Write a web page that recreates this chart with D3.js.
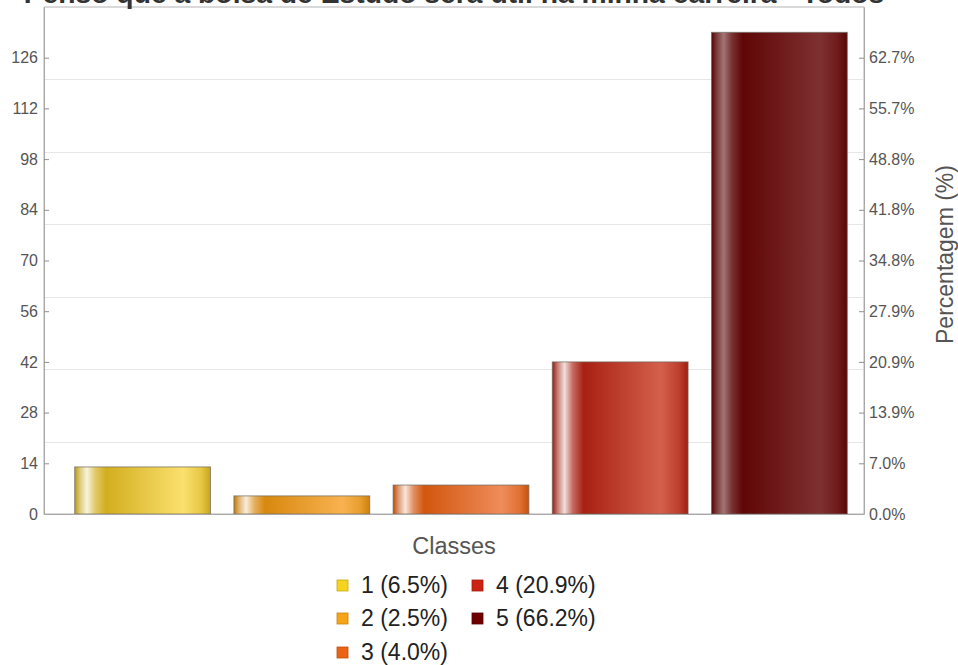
<!DOCTYPE html>
<html>
<head>
<meta charset="utf-8">
<script src="https://cdn.jsdelivr.net/npm/d3@7"></script>
<style>
  html, body { margin: 0; padding: 0; background: #fff; }
  svg { display: block; font-family: "Liberation Sans", Arial, sans-serif; }
</style>
</head>
<body>
<svg id="chart" width="958" height="665"></svg>
<script>
// ---- data ----
const title = "Penso que a bolsa de Estudo será útil na minha carreira - Todos";
const categories = ["1", "2", "3", "4", "5"];
const counts = [13, 5, 8, 42, 133];
const percentLabels = ["6.5%", "2.5%", "4.0%", "20.9%", "66.2%"];
const total = 201;
const leftTicks = [0, 14, 28, 42, 56, 70, 84, 98, 112, 126];
const gridValues = [20, 40, 60, 80, 100, 120];
const legendColors = ["#f5d31e", "#f7a416", "#ea6414", "#cc2214", "#700000"];
const barBase = ["#d2ae1e", "#d8880e", "#d2560e", "#a82012", "#600606"];
const barLight = ["#fbe06e", "#f8b250", "#ef8c5a", "#d4604c", "#7e3030"];
const xTitle = "Classes";
const yRightTitle = "Percentagem (%)";

// ---- layout ----
const L = 44, R = 864, T = 7, B = 514;
const svg = d3.select("#chart");
const defs = svg.append("defs");

const x = d3.scaleBand().domain(categories).range([63, 859]).paddingInner(0.147).paddingOuter(0.0735);
const y = d3.scaleLinear().domain([0, 140]).range([B, T]);

// frame
svg.append("rect").attr("x", L).attr("y", T).attr("width", R - L).attr("height", B - T)
  .attr("fill", "#fff").attr("stroke", "#b4b4b4").attr("stroke-width", 1);

// grid
svg.append("g").selectAll("line").data(gridValues).join("line")
  .attr("x1", L + 1).attr("x2", R - 1)
  .attr("y1", d => Math.round(y(d)) + 0.5).attr("y2", d => Math.round(y(d)) + 0.5)
  .attr("stroke", "#e6e6e6").attr("stroke-width", 1);

// gradients
categories.forEach((c, i) => {
  const base = d3.color(barBase[i]);
  const g = defs.append("linearGradient").attr("id", "g" + i)
    .attr("x1", "0%").attr("x2", "100%").attr("y1", "0%").attr("y2", "0%");
  const hl = i === 4 ? d3.interpolateRgb(barBase[i], "#d8d0d0")(0.55) : d3.interpolateRgb(barBase[i], "#ffffff")(0.85);
  const stops = [
    [0, base.darker(0.35)],
    [0.04, d3.interpolateRgb(base.darker(0.2), hl)(0.5)],
    [0.09, hl],
    [0.15, d3.interpolateRgb(hl, barBase[i])(0.6)],
    [0.23, barBase[i]],
    [0.80, barLight[i]],
    [0.93, d3.interpolateRgb(barLight[i], barBase[i])(0.5)],
    [1, base.darker(0.15)]
  ];
  stops.forEach(s => g.append("stop").attr("offset", s[0]).attr("stop-color", s[1]));
});

// bars
svg.append("g").selectAll("rect").data(categories).join("rect")
  .attr("x", d => x(d))
  .attr("y", (d, i) => y(counts[i]))
  .attr("width", x.bandwidth())
  .attr("height", (d, i) => B - y(counts[i]))
  .attr("fill", (d, i) => `url(#g${i})`)
  .attr("stroke", "#6e6a60").attr("stroke-opacity", 0.7).attr("stroke-width", 1);

// axes
const leftAxis = d3.axisLeft(y).tickValues(leftTicks).tickSizeInner(-5).tickSizeOuter(0).tickPadding(6);
const gl = svg.append("g").attr("transform", `translate(${L},0)`).call(leftAxis);
const rightAxis = d3.axisRight(y).tickValues(leftTicks).tickSizeInner(-5).tickSizeOuter(0).tickPadding(5)
  .tickFormat(d => (d / total * 100).toFixed(1) + "%");
const gr = svg.append("g").attr("transform", `translate(${R},0)`).call(rightAxis);
[gl, gr].forEach(g => {
  g.select(".domain").attr("stroke", "#a8a8a8");
  g.selectAll(".tick line").attr("stroke", "#909090");
  g.selectAll(".tick text").attr("fill", "#555").attr("font-size", 16)
    .attr("font-family", "'Liberation Sans', Arial, sans-serif");
});
// baseline
svg.append("line").attr("x1", L).attr("x2", R).attr("y1", B + 0.5).attr("y2", B + 0.5)
  .attr("stroke", "#a8a8a8");

// title (fit across plot; cut at top like the reference)
const tt = svg.append("text").attr("x", (L + R) / 2).attr("y", 3).attr("text-anchor", "middle")
  .attr("font-weight", "bold").attr("font-size", 22).attr("fill", "#333").text(title);
const tw = tt.node().getComputedTextLength();
tt.attr("font-size", 22 * 861 / tw);

// right axis title
svg.append("text").attr("transform", `translate(953,${(T + B) / 2 - 6}) rotate(-90)`)
  .attr("text-anchor", "middle").attr("font-size", 23).attr("fill", "#555").text(yRightTitle);

// x title
svg.append("text").attr("x", 454).attr("y", 554).attr("text-anchor", "middle")
  .attr("font-size", 23.5).attr("fill", "#555").text(xTitle);

// legend
const rowY = [585, 618, 652];
const colX = [337, 472];
const leg = svg.append("g").selectAll("g").data(categories).join("g")
  .attr("transform", (d, i) => {
    const col = i < 3 ? 0 : 1, row = i < 3 ? i : i - 3;
    return `translate(${colX[col]},${rowY[row]})`;
  });
leg.append("rect").attr("x", 0).attr("y", -5).attr("width", 11).attr("height", 11)
  .attr("fill", (d, i) => legendColors[i])
  .attr("stroke", (d, i) => d3.color(legendColors[i]).darker(0.6)).attr("stroke-width", 0.8);
leg.append("text").attr("x", 24).attr("y", 8).attr("font-size", 23).attr("fill", "#222")
  .text((d, i) => `${d} (${percentLabels[i]})`);
</script>
</body>
</html>
